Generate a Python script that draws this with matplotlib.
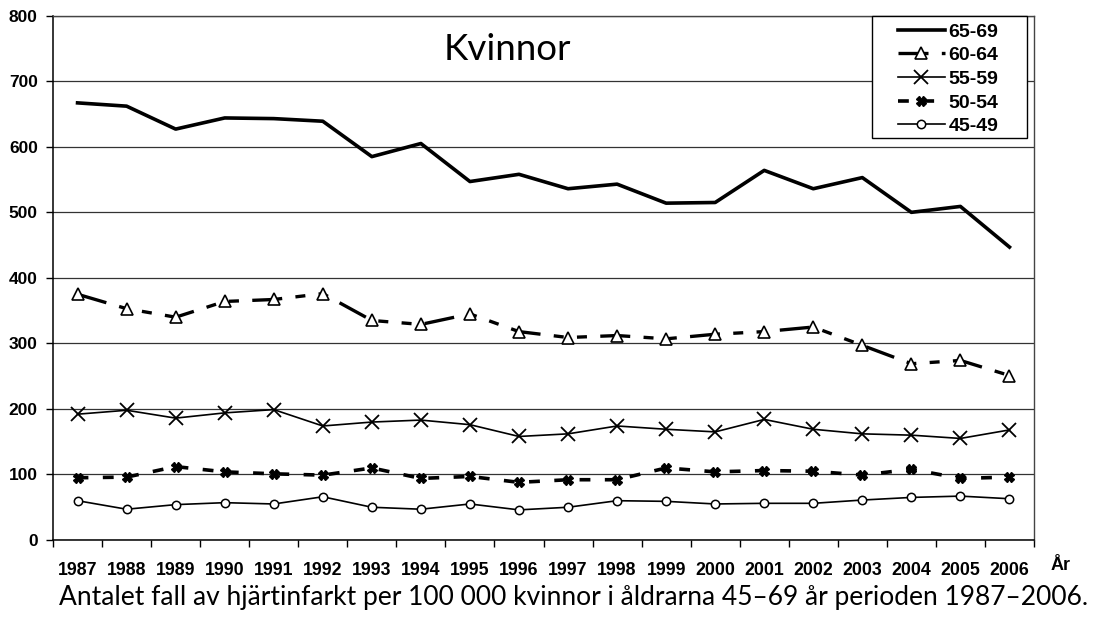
import matplotlib
matplotlib.use("Agg")
import matplotlib.pyplot as plt
from matplotlib.patches import Rectangle
import numpy as np

years = [str(y) for y in range(1987, 2007)]
s65_69 = [667, 662, 627, 644, 643, 639, 585, 605, 547, 558, 536, 543, 514, 515, 564, 536, 553, 500, 509, 447]
s60_64 = [375, 353, 340, 364, 367, 376, 335, 329, 345, 318, 309, 312, 307, 314, 318, 325, 297, 269, 274, 251]
s55_59 = [192, 198, 186, 194, 199, 174, 180, 183, 176, 158, 162, 174, 169, 165, 184, 169, 162, 160, 155, 168]
s50_54 = [95, 96, 112, 104, 101, 99, 110, 94, 97, 88, 92, 92, 110, 104, 106, 105, 99, 108, 94, 96]
s45_49 = [60, 47, 54, 57, 55, 66, 50, 47, 55, 46, 50, 60, 59, 55, 56, 56, 61, 65, 67, 63]
yticks = [0, 100, 200, 300, 400, 500, 600, 700, 800]

W, H = 1098, 621
fig = plt.figure(figsize=(W / 100, H / 100), dpi=100)
ax = fig.add_axes([0.0483, 0.1304, 0.8934, 0.8443])
x = np.arange(len(years))

ax.plot(x, s65_69, color='black', lw=2.6, label='65-69', zorder=5)
ax.plot(x, s60_64, color='black', lw=2.4, dashes=(9, 4, 3, 4, 3, 4), marker='^',
        ms=9, mfc='white', mec='black', mew=1.2, label='60-64', zorder=5)
ax.plot(x, s55_59, color='black', lw=1.2, marker='x', ms=10, mew=1.3, label='55-59', zorder=5)
ax.plot(x, s50_54, color='black', lw=2.6, dashes=(3, 4), marker='X', ms=7,
        mfc='black', mec='black', label='50-54', zorder=5)
ax.plot(x, s45_49, color='black', lw=1.2, marker='o', ms=6, mfc='white', mec='black',
        mew=1.1, label='45-49', zorder=5)

ax.set_xlim(-0.5, len(years) - 0.5)
ax.set_ylim(0, 800)
ax.set_yticks(yticks)
ax.set_yticklabels([str(v) for v in yticks], fontsize=12.5, fontweight='bold',
                   family='Liberation Sans')
ax.set_xticks(x)
ax.set_xticklabels(years, fontsize=12.8, fontweight='bold', family='Liberation Sans')
ax.tick_params(axis='x', length=0, pad=16)
ax.set_xticks(np.arange(-0.5, len(years), 1), minor=True)
ax.tick_params(axis='x', which='minor', length=5, width=1, color='black')
ax.tick_params(axis='y', length=5, width=1, pad=6)
ax.yaxis.grid(True, color='#333333', lw=0.9)
ax.set_axisbelow(True)
for side in ['left', 'bottom']:
    ax.spines[side].set_color('black')
    ax.spines[side].set_linewidth(1.1)
for side in ['top', 'right']:
    ax.spines[side].set_color('#444444')
    ax.spines[side].set_linewidth(1.0)

ax.text(0.463, 0.936, 'Kvinnor', transform=ax.transAxes, ha='center', va='center',
        fontsize=26.5, family='Lato')

# legend box (frame drawn separately to match the wide right padding)
box = Rectangle((872 / W, 1 - 138 / H), (1027 - 872) / W, (138 - 16) / H,
                transform=fig.transFigure, facecolor='white', edgecolor='black',
                lw=1.0, zorder=10)
fig.patches.append(box)
leg = ax.legend(loc='upper left', bbox_to_anchor=(898 / W, 1 - 23 / H),
                bbox_transform=fig.transFigure, frameon=False, handlelength=2.4,
                prop={'family': 'Liberation Sans', 'weight': 'bold', 'size': 14},
                labelspacing=0.31, borderpad=0, handletextpad=0.2,
                borderaxespad=0)
leg.set_zorder(11)
fig.legends.append(leg)
ax.get_legend().remove()

fig.text(1061 / W, 1 - 565 / H, 'År', ha='center', va='center', fontsize=13,
         fontweight='bold', family='Liberation Sans')
fig.text(0.522, 1 - 598 / H,
         'Antalet fall av hjärtinfarkt per 100 000 kvinnor i åldrarna 45–69 år perioden 1987–2006.',
         ha='center', va='center', fontsize=19, family='Lato')

fig.savefig('out.png', dpi=100)
